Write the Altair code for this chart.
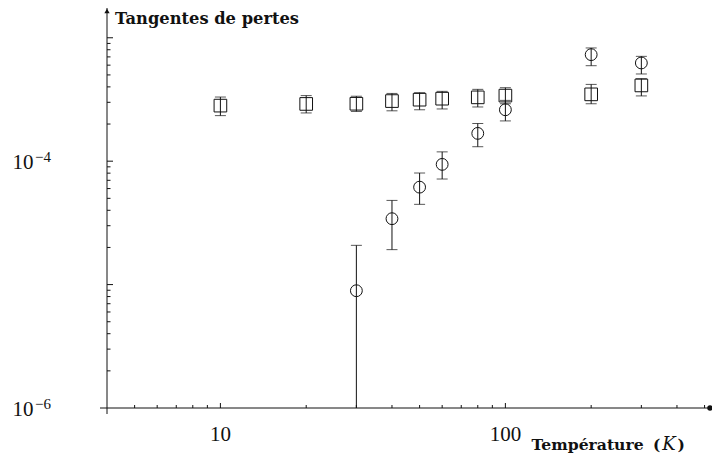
import altair as alt
import pandas as pd

# ---------------- data ----------------
temps_sq = [10, 20, 30, 40, 50, 60, 80, 100, 200, 300]
tan_sq = [2.82e-4, 2.91e-4, 2.92e-4, 3.07e-4, 3.15e-4, 3.21e-4, 3.29e-4, 3.40e-4, 3.48e-4, 4.11e-4]
tan_sq_hi = [3.31e-4, 3.40e-4, 3.36e-4, 3.54e-4, 3.59e-4, 3.68e-4, 3.82e-4, 3.94e-4, 4.19e-4, 4.66e-4]
tan_sq_lo = [2.34e-4, 2.46e-4, 2.53e-4, 2.56e-4, 2.61e-4, 2.65e-4, 2.75e-4, 2.92e-4, 2.92e-4, 3.38e-4]

temps_ci = [30, 40, 50, 60, 80, 100, 200, 300]
tan_ci = [8.92e-6, 3.42e-5, 6.16e-5, 9.42e-5, 1.68e-4, 2.61e-4, 7.30e-4, 6.25e-4]
tan_ci_hi = [2.08e-5, 4.81e-5, 8.02e-5, 1.19e-4, 2.02e-4, 3.11e-4, 8.27e-4, 7.07e-4]
tan_ci_lo = [0.0, 1.92e-5, 4.47e-5, 7.17e-5, 1.31e-4, 2.12e-4, 5.94e-4, 5.09e-4]  # 0 = below the axis

x_domain = [4, 522.4]
y_domain = [1e-6, 1.743e-3]

x_major = [10, 100]
x_minor = [5, 6, 7, 8, 9, 20, 30, 40, 50, 60, 70, 80, 90, 200, 300, 400, 500]
y_major = [1e-5, 1e-4, 1e-3]
y_minor = [2e-6, 3e-6, 4e-6, 5e-6, 6e-6, 7e-6, 8e-6, 9e-6,
           2e-5, 3e-5, 4e-5, 5e-5, 6e-5, 7e-5, 8e-5, 9e-5,
           2e-4, 3e-4, 4e-4, 5e-4, 6e-4, 7e-4, 8e-4, 9e-4]

x_label_values = [10, 100]
x_label_texts = ["10", "100"]
y_label_values = [1e-6, 1e-4]
y_label_base = ["10", "10"]
y_label_exp = ["\u22126", "\u22124"]

title_y = "Tangentes de pertes"
title_x = "Température"

# ---------------- layout ----------------
W, H = 603, 400
INK = "#111111"
SERIF = "Liberation Serif"
BOLD = "DejaVu Serif"

xs = alt.Scale(type="log", domain=x_domain, nice=False, zero=False)
ys = alt.Scale(type="log", domain=y_domain, nice=False, zero=False)

ymin = y_domain[0]
sq = pd.DataFrame({"T": temps_sq, "v": tan_sq, "hi": tan_sq_hi, "lo": tan_sq_lo})
ci = pd.DataFrame({"T": temps_ci, "v": tan_ci, "hi": tan_ci_hi, "lo": tan_ci_lo})
for d in (sq, ci):
    d["lo_clip"] = d["lo"].clip(lower=ymin)
    d["has_lo"] = d["lo"] >= ymin

one = pd.DataFrame({"a": [0]})


def X(field):
    return alt.X(field, type="quantitative", scale=xs, axis=None)


def Y(field):
    return alt.Y(field, type="quantitative", scale=ys, axis=None)


def series_layers(df, shape, size):
    bars = alt.Chart(df).mark_rule(color=INK, strokeWidth=1).encode(
        x=X("T"), y=Y("lo_clip"), y2="hi")
    cap_hi = alt.Chart(df).mark_tick(color=INK, orient="horizontal", size=11, thickness=1).encode(
        x=X("T"), y=Y("hi"))
    cap_lo = alt.Chart(df).transform_filter("datum.has_lo").mark_tick(
        color=INK, orient="horizontal", size=11, thickness=1).encode(x=X("T"), y=Y("lo"))
    pts = alt.Chart(df).mark_point(shape=shape, size=size, filled=False, stroke=INK,
                                   strokeWidth=1, opacity=1).encode(x=X("T"), y=Y("v"))
    return [bars, cap_hi, cap_lo, pts]


# axes lines
y_axis = alt.Chart(one).mark_rule(color=INK, strokeWidth=1).encode(
    x=alt.value(0), y=alt.value(0), y2=alt.value(H + 6))
x_axis = alt.Chart(one).mark_rule(color=INK, strokeWidth=1).encode(
    x=alt.value(-7), x2=alt.value(W), y=alt.value(H))
arrow_top = alt.Chart(one).mark_point(shape="triangle-up", filled=True, color=INK, size=28, opacity=1).encode(
    x=alt.value(0), y=alt.value(3))
arrow_right = alt.Chart(one).mark_point(shape="circle", filled=True, color=INK, size=30, opacity=1).encode(
    x=alt.value(W), y=alt.value(H))

# ticks (pointing inward)
xt_major = alt.Chart(pd.DataFrame({"v": x_major})).mark_rule(color=INK, strokeWidth=1).encode(
    x=X("v"), y=alt.value(H), y2=alt.value(H - 5))
xt_minor = alt.Chart(pd.DataFrame({"v": x_minor})).mark_rule(color=INK, strokeWidth=1).encode(
    x=X("v"), y=alt.value(H), y2=alt.value(H - 3))
yt_major = alt.Chart(pd.DataFrame({"v": y_major})).mark_rule(color=INK, strokeWidth=1).encode(
    y=Y("v"), x=alt.value(0), x2=alt.value(6))
yt_minor = alt.Chart(pd.DataFrame({"v": y_minor})).mark_rule(color=INK, strokeWidth=1).encode(
    y=Y("v"), x=alt.value(0), x2=alt.value(3.5))

# tick labels
xl = alt.Chart(pd.DataFrame({"v": x_label_values, "t": x_label_texts})).mark_text(
    font=SERIF, fontSize=21, align="center", baseline="alphabetic", color=INK).encode(
    x=X("v"), y=alt.value(H + 32.5), text="t:N")
yl_base = alt.Chart(pd.DataFrame({"v": y_label_values, "t": y_label_base})).mark_text(
    font=SERIF, fontSize=21, align="left", baseline="alphabetic", color=INK, dy=8).encode(
    y=Y("v"), x=alt.value(-94.5), text="t:N")
yl_exp = alt.Chart(pd.DataFrame({"v": y_label_values, "t": y_label_exp})).mark_text(
    font=SERIF, fontSize=15, align="left", baseline="alphabetic", color=INK, dy=0.5).encode(
    y=Y("v"), x=alt.value(-72), text="t:N")

# axis titles
t_y = alt.Chart(pd.DataFrame({"t": [title_y]})).mark_text(
    font=BOLD, fontSize=16.3, fontWeight="bold", align="left", baseline="alphabetic", color=INK).encode(
    x=alt.value(8), y=alt.value(15.5), text="t:N")
TX_Y = H + 41.5
t_x = alt.Chart(pd.DataFrame({"t": [title_x]})).mark_text(
    font=BOLD, fontSize=15.6, fontWeight="bold", align="left", baseline="alphabetic", color=INK).encode(
    x=alt.value(424.5), y=alt.value(TX_Y), text="t:N")
t_x_open = alt.Chart(pd.DataFrame({"t": ["("]})).mark_text(
    font=BOLD, fontSize=15.6, fontWeight="bold", align="left", baseline="alphabetic", color=INK).encode(
    x=alt.value(546), y=alt.value(TX_Y), text="t:N")
t_x_k = alt.Chart(pd.DataFrame({"t": ["K"]})).mark_text(
    font=BOLD, fontSize=18, fontStyle="italic", align="center", baseline="alphabetic", color=INK).encode(
    x=alt.value(562), y=alt.value(TX_Y), text="t:N")
t_x_close = alt.Chart(pd.DataFrame({"t": [")"]})).mark_text(
    font=BOLD, fontSize=15.6, fontWeight="bold", align="left", baseline="alphabetic", color=INK).encode(
    x=alt.value(570.5), y=alt.value(TX_Y), text="t:N")

layers = (series_layers(sq, "square", 160) + series_layers(ci, "circle", 140) +
          [y_axis, x_axis, arrow_top, arrow_right, xt_major, xt_minor, yt_major, yt_minor,
           xl, yl_base, yl_exp, t_y, t_x, t_x_open, t_x_k, t_x_close])

chart = alt.layer(*layers).properties(
    width=W, height=H,
    autosize=alt.AutoSizeParams(type="none"),
    padding={"left": 99, "top": 0, "right": 2, "bottom": 46},
    background="white",
).configure_view(stroke=None)

chart.save("out.html", embed_options={"renderer": "svg", "actions": False})
